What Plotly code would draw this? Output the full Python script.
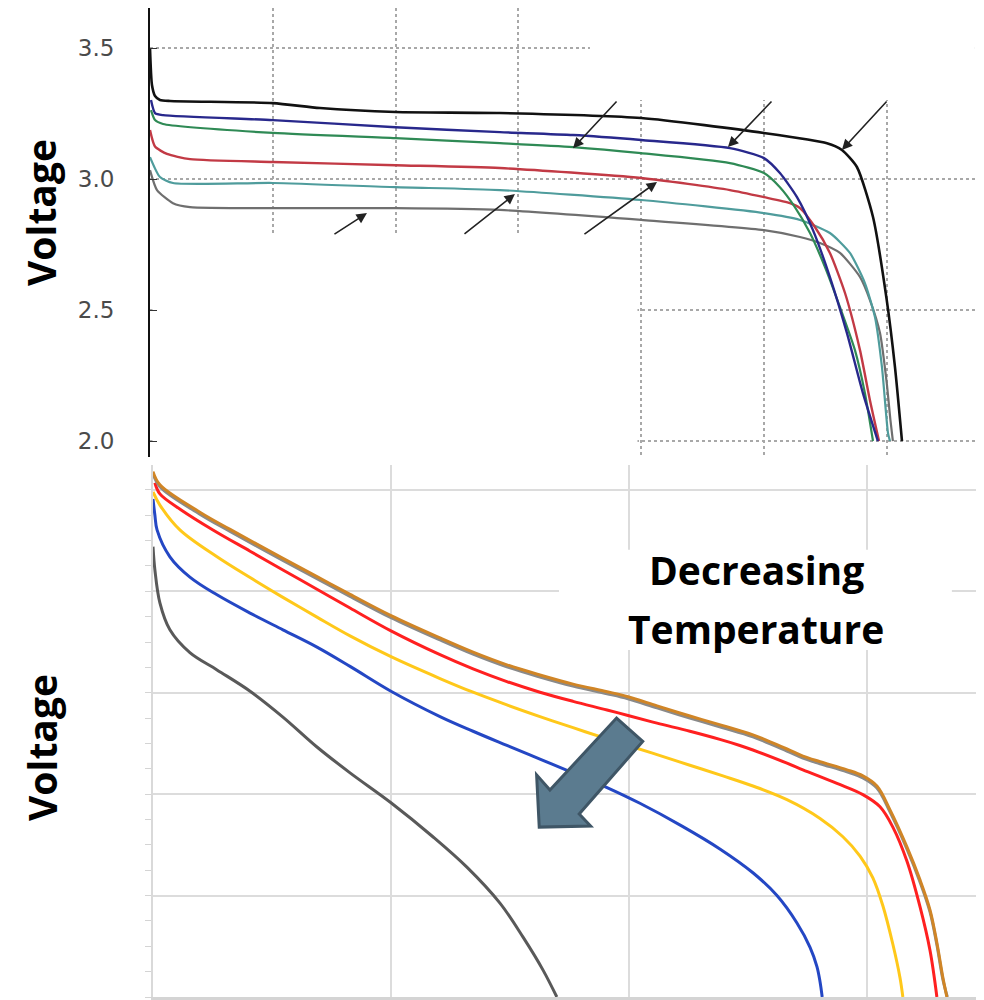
import plotly.graph_objects as go

# ---------------- Top panel data (capacity units, voltage V) ----------------
black_x = [0, 0.016, 0.041, 0.081, 0.163, 1.0, 1.384, 2.0, 2.85, 4.0, 5.0, 5.513, 5.635, 5.757, 5.888, 6.0, 6.067, 6.124]
black_v = [3.5, 3.359, 3.317, 3.302, 3.298, 3.29, 3.271, 3.256, 3.252, 3.233, 3.176, 3.137, 3.111, 3.046, 2.855, 2.538, 2.282, 2.0]

blue_x = [0.008, 0.041, 0.106, 1.0, 2.0, 2.85, 3.445, 4.0, 4.723, 5.0, 5.13, 5.269, 5.399, 5.537, 5.676, 5.806, 5.928]
blue_v = [3.302, 3.252, 3.244, 3.225, 3.198, 3.179, 3.168, 3.149, 3.118, 3.08, 3.023, 2.931, 2.805, 2.626, 2.412, 2.183, 2.0]

green_x = [0.008, 0.041, 0.106, 1.0, 2.0, 2.85, 3.445, 4.0, 4.723, 5.0, 5.13, 5.252, 5.375, 5.497, 5.619, 5.741, 5.822, 5.888]
green_v = [3.263, 3.225, 3.21, 3.176, 3.156, 3.137, 3.122, 3.099, 3.061, 3.023, 2.969, 2.893, 2.794, 2.664, 2.511, 2.347, 2.183, 2.0]

red_x = [0, 0.041, 0.138, 0.326, 1.0, 2.0, 2.85, 4.0, 4.723, 5.0, 5.212, 5.293, 5.415, 5.537, 5.66, 5.782, 5.863, 5.937]
red_v = [3.187, 3.124, 3.096, 3.076, 3.065, 3.053, 3.042, 3.004, 2.958, 2.931, 2.908, 2.889, 2.817, 2.718, 2.565, 2.347, 2.156, 2.0]

teal_x = [0, 0.081, 0.187, 1.0, 2.0, 2.85, 4.0, 5.0, 5.293, 5.537, 5.7, 5.822, 5.904, 5.961, 6.01, 6.026]
teal_v = [3.084, 3.008, 2.985, 2.985, 2.969, 2.958, 2.92, 2.87, 2.844, 2.794, 2.718, 2.603, 2.473, 2.282, 2.031, 2.0]

gray_x = [0, 0.057, 0.187, 0.326, 1.0, 2.0, 2.85, 4.0, 5.0, 5.293, 5.456, 5.619, 5.782, 5.863, 5.945, 6.0, 6.03, 6.05]
gray_v = [3.034, 2.958, 2.908, 2.893, 2.889, 2.889, 2.882, 2.844, 2.805, 2.779, 2.756, 2.718, 2.626, 2.538, 2.412, 2.221, 2.08, 2.0]

top_tick_vals = [2.0, 2.5, 3.0, 3.5]
top_tick_text = ["2.0", "2.5", "3.0", "3.5"]

# thin arrows in top panel: (tail x, tail v, head x, head v)
arrow_tail_x = [1.49, 2.549, 3.526, 3.811, 5.073, 6.01]
arrow_tail_v = [2.786, 2.786, 2.786, 3.302, 3.302, 3.302]
arrow_head_x = [1.767, 2.972, 4.129, 3.445, 4.707, 5.635]
arrow_head_v = [2.870, 2.943, 2.989, 3.118, 3.122, 3.111]

# ---------------- Bottom panel data ----------------
orange_x = [0, 0.029, 0.197, 0.324, 0.546, 0.689, 0.828, 1.0, 1.206, 1.345, 1.487, 1.626, 1.765, 1.908, 1.996,
            2.118, 2.256, 2.395, 2.521, 2.664, 2.731, 2.803, 2.916, 2.983, 3.042, 3.097, 3.168, 3.223, 3.265,
            3.294, 3.319, 3.336]
orange_v = [4.036, 4.010, 3.956, 3.922, 3.865, 3.829, 3.794, 3.752, 3.708, 3.680, 3.655, 3.635, 3.617, 3.602, 3.592,
            3.574, 3.554, 3.535, 3.517, 3.489, 3.475, 3.464, 3.448, 3.436, 3.416, 3.369, 3.296, 3.231, 3.172,
            3.107, 3.039, 3.0]

grey2_x = [0, 0.029, 0.197, 0.324, 0.546, 0.689, 0.828, 1.0, 1.206, 1.345, 1.487, 1.626, 1.765, 1.908, 1.996,
           2.118, 2.256, 2.395, 2.521, 2.664, 2.731, 2.803, 2.916, 2.983, 3.042, 3.097, 3.168, 3.223, 3.265,
           3.294, 3.319, 3.338]
grey2_v = [4.032, 4.006, 3.952, 3.918, 3.861, 3.825, 3.790, 3.748, 3.704, 3.676, 3.651, 3.631, 3.613, 3.598, 3.588,
           3.570, 3.550, 3.531, 3.513, 3.485, 3.471, 3.460, 3.444, 3.432, 3.412, 3.365, 3.292, 3.227, 3.168,
           3.103, 3.035, 3.0]

red2_x = [0.008, 0.029, 0.120, 0.252, 0.408, 0.546, 0.689, 0.828, 1.0, 1.206, 1.345, 1.487, 1.626, 1.765, 1.908,
          1.996, 2.118, 2.256, 2.382, 2.466, 2.521, 2.664, 2.731, 2.874, 2.983, 3.055, 3.109, 3.168, 3.223, 3.265,
          3.294]
red2_v = [4.014, 3.992, 3.960, 3.921, 3.879, 3.842, 3.804, 3.767, 3.722, 3.675, 3.647, 3.622, 3.601, 3.583, 3.566,
          3.555, 3.540, 3.524, 3.508, 3.496, 3.487, 3.461, 3.448, 3.421, 3.399, 3.375, 3.335, 3.268, 3.178, 3.092,
          3.0]

yellow_x = [0, 0.029, 0.113, 0.269, 0.408, 0.546, 0.689, 0.828, 1.0, 1.206, 1.345, 1.487, 1.626, 1.765, 1.908,
            1.996, 2.118, 2.256, 2.395, 2.521, 2.664, 2.803, 2.899, 2.971, 3.025, 3.067, 3.109, 3.139, 3.151]
yellow_v = [3.996, 3.970, 3.921, 3.868, 3.827, 3.788, 3.749, 3.712, 3.671, 3.628, 3.601, 3.576, 3.553, 3.531, 3.509,
            3.496, 3.478, 3.457, 3.436, 3.416, 3.389, 3.352, 3.316, 3.278, 3.235, 3.180, 3.104, 3.038, 3.0]

blue2_x = [0, 0.008, 0.017, 0.071, 0.155, 0.269, 0.408, 0.546, 0.689, 0.828, 1.0, 1.206, 1.345, 1.487, 1.626,
           1.765, 1.908, 2.046, 2.223, 2.382, 2.521, 2.622, 2.706, 2.761, 2.790, 2.803, 2.812]
blue2_v = [3.982, 3.950, 3.921, 3.868, 3.828, 3.793, 3.757, 3.724, 3.690, 3.652, 3.603, 3.553, 3.524, 3.496, 3.469,
           3.442, 3.413, 3.382, 3.337, 3.292, 3.245, 3.200, 3.146, 3.098, 3.060, 3.030, 3.0]

dgray_x = [0, 0.008, 0.029, 0.071, 0.155, 0.269, 0.408, 0.546, 0.689, 0.828, 1.0, 1.176, 1.319, 1.458, 1.555, 1.639, 1.697]
dgray_v = [3.888, 3.842, 3.777, 3.724, 3.679, 3.645, 3.603, 3.552, 3.493, 3.442, 3.383, 3.316, 3.256, 3.185, 3.118, 3.053, 3.0]

# block arrow polygon (bottom panel data coords)
block_x = [1.948, 2.058, 1.791, 1.839, 1.623, 1.612, 1.668]
block_v = [3.550, 3.504, 3.361, 3.337, 3.335, 3.438, 3.408]

# Page body keeps an 8px default margin, so the figure is 976x992 placed at (8, 8).
W, H, OFF = 976, 992, 8


def px_x(p):
    return (p - OFF) / W


def px_y(p):
    return 1 - (p - OFF) / H


fig = go.Figure()

top_series = [
    (gray_x, gray_v, "#6f6f6f", 2.2),
    (teal_x, teal_v, "#4f9c9c", 2.2),
    (red_x, red_v, "#c23a45", 2.4),
    (green_x, green_v, "#2f8a55", 2.2),
    (blue_x, blue_v, "#28288c", 2.4),
    (black_x, black_v, "#111111", 2.6),
]
for xs, vs, col, w in top_series:
    fig.add_trace(go.Scatter(x=xs, y=vs, mode="lines", xaxis="x", yaxis="y",
                             line=dict(color=col, width=w, shape="spline", smoothing=0.6),
                             hoverinfo="skip"))

bottom_series = [
    (dgray_x, dgray_v, "#595959"),
    (blue2_x, blue2_v, "#2447c4"),
    (yellow_x, yellow_v, "#ffc81a"),
    (red2_x, red2_v, "#ff2020"),
    (grey2_x, grey2_v, "#8a8a8a"),
    (orange_x, orange_v, "#d08526"),
]
for xs, vs, col in bottom_series:
    fig.add_trace(go.Scatter(x=xs, y=vs, mode="lines", xaxis="x2", yaxis="y2",
                             line=dict(color=col, width=3, shape="spline", smoothing=1.0),
                             hoverinfo="skip"))

shapes = [
    dict(type="rect", xref="x", yref="y", x0=0.02, x1=3.97, y0=1.9, y1=2.786,
         fillcolor="white", line=dict(width=0), layer="between"),
    dict(type="rect", xref="x", yref="y", x0=3.583, x1=6.718, y0=3.302, y1=3.7,
         fillcolor="white", line=dict(width=0), layer="between"),
    dict(type="rect", xref="x2", yref="y2", x0=1.706, x1=3.357, y0=3.684, y1=3.882,
         fillcolor="white", line=dict(width=0), layer="between"),
]
path = "M " + " L ".join(f"{x},{v}" for x, v in zip(block_x, block_v)) + " Z"
shapes.append(dict(type="path", xref="x2", yref="y2", path=path,
                   fillcolor="#5b7b8f", line=dict(color="#3f5666", width=3), layer="above"))

annotations = []
for tx, tv, hx, hv in zip(arrow_tail_x, arrow_tail_v, arrow_head_x, arrow_head_v):
    annotations.append(dict(x=hx, y=hv, ax=tx, ay=tv, xref="x", yref="y", axref="x", ayref="y",
                            text="", showarrow=True, arrowhead=2, arrowsize=1.3, arrowwidth=1.6,
                            arrowcolor="#222222", standoff=0))

label_font = dict(family="Open Sans", size=39, color="black", weight="bold")
annotations.append(dict(x=px_x(40), y=px_y(213), xref="paper", yref="paper", text="Voltage",
                        textangle=-90, showarrow=False, font=label_font, xanchor="center", yanchor="middle"))
annotations.append(dict(x=px_x(41), y=px_y(748), xref="paper", yref="paper", text="Voltage",
                        textangle=-90, showarrow=False, font=label_font, xanchor="center", yanchor="middle"))
annotations.append(dict(x=2.534, y=3.842, xref="x2", yref="y2", text="Decreasing",
                        showarrow=False, font=label_font, xanchor="center", yanchor="middle"))
annotations.append(dict(x=2.534, y=3.726, xref="x2", yref="y2", text="Temperature",
                        showarrow=False, font=label_font, xanchor="center", yanchor="middle"))

fig.update_layout(
    width=W, height=H,
    margin=dict(l=0, r=0, t=0, b=0),
    paper_bgcolor="white", plot_bgcolor="white",
    showlegend=False,
    xaxis=dict(domain=[px_x(150), 1], range=[0, 6.792], anchor="y",
               showgrid=True, gridcolor="#a8a8a8", griddash="dot", gridwidth=1.5,
               tick0=0, dtick=1, showticklabels=False, zeroline=False, showline=False, ticks=""),
    yaxis=dict(domain=[px_y(457), px_y(8)], range=[1.939, 3.653], anchor="x",
               tickvals=top_tick_vals, ticktext=top_tick_text,
               showgrid=True, gridcolor="#a8a8a8", griddash="dot", gridwidth=1.5,
               showline=True, linecolor="#111111", linewidth=2,
               ticks="inside", ticklen=7, tickcolor="#333333", ticklabelstandoff=29,
               tickfont=dict(family="DejaVu Sans", size=23, color="#4a4a4a"), zeroline=False),
    xaxis2=dict(domain=[px_x(153), 1], range=[0, 3.492], anchor="y2",
                showgrid=True, gridcolor="#dcdcdc", gridwidth=1.5, tick0=0, dtick=1,
                showticklabels=False, zeroline=False, showline=True, linecolor="#d4d4d4",
                linewidth=3, ticks=""),
    yaxis2=dict(domain=[px_y(997), px_y(465)], range=[3.0, 4.049], anchor="x2",
                tick0=3.0, dtick=0.2, showgrid=True, gridcolor="#dcdcdc", gridwidth=1.5,
                showline=True, linecolor="#d9d9d9", linewidth=1.5,
                ticks="outside", ticklen=6, tickcolor="#d4d4d4",
                minor=dict(dtick=0.05, tick0=3.0, ticks="outside", ticklen=6, tickcolor="#d4d4d4", showgrid=False),
                showticklabels=False, zeroline=False),
    shapes=shapes,
    annotations=annotations,
)

fig.write_html("out.html")
